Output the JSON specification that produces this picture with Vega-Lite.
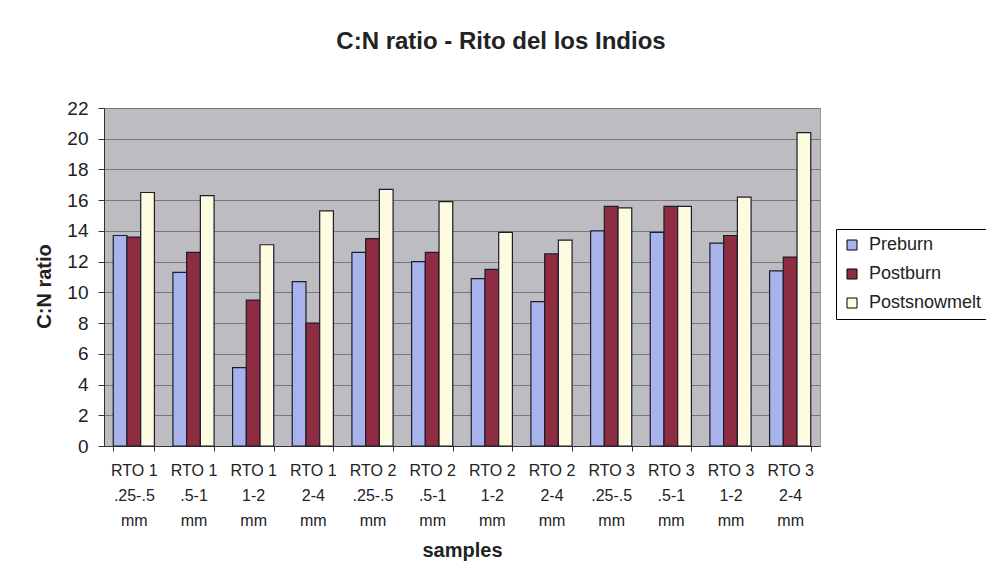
{
  "$schema": "https://vega.github.io/schema/vega-lite/v6.json",
  "width": 716,
  "height": 338,
  "autosize": {"type": "none"},
  "padding": {"left": 104, "top": 108, "right": 166, "bottom": 134},
  "background": "white",
  "title": {
    "text": "C:N ratio - Rito del los Indios",
    "font": "Liberation Sans",
    "fontSize": 24,
    "fontWeight": "bold",
    "color": "#222222",
    "anchor": "middle",
    "frame": "group",
    "offset": 45,
    "dx": 39
  },
  "data": {
    "values": [
      {"sample": "RTO 1|.25-.5|mm", "series": "Preburn", "ratio": 13.7},
      {"sample": "RTO 1|.25-.5|mm", "series": "Postburn", "ratio": 13.6},
      {"sample": "RTO 1|.25-.5|mm", "series": "Postsnowmelt", "ratio": 16.5},
      {"sample": "RTO 1|.5-1|mm", "series": "Preburn", "ratio": 11.3},
      {"sample": "RTO 1|.5-1|mm", "series": "Postburn", "ratio": 12.6},
      {"sample": "RTO 1|.5-1|mm", "series": "Postsnowmelt", "ratio": 16.3},
      {"sample": "RTO 1|1-2|mm", "series": "Preburn", "ratio": 5.1},
      {"sample": "RTO 1|1-2|mm", "series": "Postburn", "ratio": 9.5},
      {"sample": "RTO 1|1-2|mm", "series": "Postsnowmelt", "ratio": 13.1},
      {"sample": "RTO 1|2-4|mm", "series": "Preburn", "ratio": 10.7},
      {"sample": "RTO 1|2-4|mm", "series": "Postburn", "ratio": 8.0},
      {"sample": "RTO 1|2-4|mm", "series": "Postsnowmelt", "ratio": 15.3},
      {"sample": "RTO 2|.25-.5|mm", "series": "Preburn", "ratio": 12.6},
      {"sample": "RTO 2|.25-.5|mm", "series": "Postburn", "ratio": 13.5},
      {"sample": "RTO 2|.25-.5|mm", "series": "Postsnowmelt", "ratio": 16.7},
      {"sample": "RTO 2|.5-1|mm", "series": "Preburn", "ratio": 12.0},
      {"sample": "RTO 2|.5-1|mm", "series": "Postburn", "ratio": 12.6},
      {"sample": "RTO 2|.5-1|mm", "series": "Postsnowmelt", "ratio": 15.9},
      {"sample": "RTO 2|1-2|mm", "series": "Preburn", "ratio": 10.9},
      {"sample": "RTO 2|1-2|mm", "series": "Postburn", "ratio": 11.5},
      {"sample": "RTO 2|1-2|mm", "series": "Postsnowmelt", "ratio": 13.9},
      {"sample": "RTO 2|2-4|mm", "series": "Preburn", "ratio": 9.4},
      {"sample": "RTO 2|2-4|mm", "series": "Postburn", "ratio": 12.5},
      {"sample": "RTO 2|2-4|mm", "series": "Postsnowmelt", "ratio": 13.4},
      {"sample": "RTO 3|.25-.5|mm", "series": "Preburn", "ratio": 14.0},
      {"sample": "RTO 3|.25-.5|mm", "series": "Postburn", "ratio": 15.6},
      {"sample": "RTO 3|.25-.5|mm", "series": "Postsnowmelt", "ratio": 15.5},
      {"sample": "RTO 3|.5-1|mm", "series": "Preburn", "ratio": 13.9},
      {"sample": "RTO 3|.5-1|mm", "series": "Postburn", "ratio": 15.6},
      {"sample": "RTO 3|.5-1|mm", "series": "Postsnowmelt", "ratio": 15.6},
      {"sample": "RTO 3|1-2|mm", "series": "Preburn", "ratio": 13.2},
      {"sample": "RTO 3|1-2|mm", "series": "Postburn", "ratio": 13.7},
      {"sample": "RTO 3|1-2|mm", "series": "Postsnowmelt", "ratio": 16.2},
      {"sample": "RTO 3|2-4|mm", "series": "Preburn", "ratio": 11.4},
      {"sample": "RTO 3|2-4|mm", "series": "Postburn", "ratio": 12.3},
      {"sample": "RTO 3|2-4|mm", "series": "Postsnowmelt", "ratio": 20.4}
    ]
  },
  "mark": {"type": "bar", "stroke": "#1c1c2c", "strokeWidth": 1.2},
  "encoding": {
    "x": {
      "field": "sample",
      "type": "nominal",
      "sort": null,
      "scale": {"paddingInner": 0.31, "paddingOuter": 0.155},
      "axis": {
        "title": "samples",
        "labelAngle": 0,
        "labelExpr": "split(datum.label, '|')",
        "labelFontSize": 16,
        "labelLineHeight": 25,
        "labelPadding": 11,
        "labelOverlap": false,
        "tickBand": "extent",
        "tickSize": 5,
        "titleFontSize": 20,
        "titlePadding": 12,
        "grid": false
      }
    },
    "xOffset": {
      "field": "series",
      "type": "nominal",
      "sort": ["Preburn", "Postburn", "Postsnowmelt"],
      "scale": {"paddingInner": 0, "paddingOuter": 0}
    },
    "y": {
      "field": "ratio",
      "type": "quantitative",
      "scale": {"domain": [0, 22], "nice": false},
      "axis": {
        "title": "C:N ratio",
        "values": [0, 2, 4, 6, 8, 10, 12, 14, 16, 18, 20, 22],
        "labelFontSize": 19,
        "labelPadding": 10,
        "labelOverlap": false,
        "tickSize": 6,
        "titleFontSize": 20,
        "titlePadding": 12,
        "titleY": 178,
        "grid": true,
        "gridColor": "#77777c",
        "gridWidth": 1
      }
    },
    "color": {
      "field": "series",
      "type": "nominal",
      "scale": {
        "domain": ["Preburn", "Postburn", "Postsnowmelt"],
        "range": ["#a7b3ea", "#8e2c42", "#fdfbe0"]
      },
      "legend": {
        "title": null,
        "orient": "none",
        "legendX": 732,
        "legendY": 121,
        "labelFontSize": 18,
        "labelColor": "#222222",
        "labelOffset": 8,
        "labelLimit": 300,
        "symbolType": "square",
        "symbolSize": 100,
        "symbolStrokeColor": "#000000",
        "symbolStrokeWidth": 1,
        "rowPadding": 11,
        "padding": 7,
        "strokeColor": "#000000",
        "fillColor": "#ffffff"
      }
    }
  },
  "config": {
    "font": "Liberation Sans",
    "view": {"fill": "#bdbdc1", "stroke": "#9a9a9a"},
    "axis": {
      "labelFont": "Liberation Sans",
      "titleFont": "Liberation Sans",
      "labelColor": "#222222",
      "titleColor": "#222222",
      "titleFontWeight": "bold",
      "domainColor": "#333333",
      "tickColor": "#333333",
      "domainWidth": 1,
      "tickWidth": 1
    },
    "legend": {"labelFont": "Liberation Sans"}
  }
}
